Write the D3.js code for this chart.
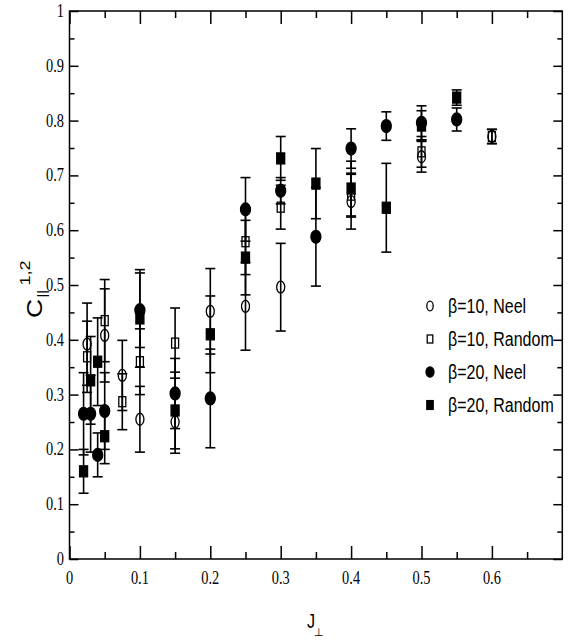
<!DOCTYPE html>
<html>
<head>
<meta charset="utf-8">
<script src="https://cdn.jsdelivr.net/npm/d3@7"></script>
<style>
  body { margin: 0; background: #fff; }
  svg { display: block; }
</style>
</head>
<body>
<div id="chart"></div>
<script>
// axis ticks
let xTicks = [0, 0.1, 0.2, 0.3, 0.4, 0.5, 0.6]
let xMinor = [0.05, 0.15, 0.25, 0.35, 0.45, 0.55, 0.65]
let xLabels = ['0', '0.1', '0.2', '0.3', '0.4', '0.5', '0.6']
let yTicks = [0, 0.1, 0.2, 0.3, 0.4, 0.5, 0.6, 0.7, 0.8, 0.9, 1]
let yMinor = [0.05, 0.15, 0.25, 0.35, 0.45, 0.55, 0.65, 0.75, 0.85, 0.95]
let yLabels = ['0', '0.1', '0.2', '0.3', '0.4', '0.5', '0.6', '0.7', '0.8', '0.9', '1']

let seriesNames = ['β=10, Neel', 'β=10, Random', 'β=20, Neel', 'β=20, Random']

// beta=10, Neel (open circles)
let j10Neel = [0.025, 0.05, 0.075, 0.1, 0.15, 0.2, 0.25, 0.3, 0.4, 0.5, 0.6]
let c10Neel = [0.392, 0.408, 0.335, 0.255, 0.25, 0.452, 0.461, 0.496, 0.652, 0.734, 0.771]
let e10Neel = [0.075, 0.085, 0.064, 0.06, 0.057, 0.078, 0.08, 0.08, 0.05, 0.028, 0.013]

// beta=10, Random (open squares)
let j10Rand = [0.025, 0.05, 0.075, 0.1, 0.15, 0.25, 0.3, 0.4, 0.5, 0.6]
let c10Rand = [0.369, 0.435, 0.287, 0.36, 0.394, 0.579, 0.642, 0.664, 0.743, 0.771]
let e10Rand = [0.065, 0.075, 0.051, 0.06, 0.064, 0.06, 0.04, 0.04, 0.028, 0.013]

// beta=20, Neel (filled circles)
let j20Neel = [0.02, 0.03, 0.04, 0.05, 0.1, 0.15, 0.2, 0.25, 0.3, 0.35, 0.4, 0.45, 0.5, 0.55]
let c20Neel = [0.265, 0.265, 0.19, 0.27, 0.454, 0.302, 0.293, 0.638, 0.672, 0.588, 0.749, 0.79, 0.796, 0.802]
let e20Neel = [0.075, 0.07, 0.04, 0.07, 0.068, 0.064, 0.09, 0.058, 0.024, 0.09, 0.036, 0.026, 0.031, 0.021]

// beta=20, Random (filled squares)
let j20Rand = [0.02, 0.03, 0.04, 0.05, 0.1, 0.15, 0.2, 0.25, 0.3, 0.35, 0.4, 0.45, 0.5, 0.55]
let c20Rand = [0.16, 0.326, 0.36, 0.224, 0.439, 0.271, 0.41, 0.55, 0.731, 0.685, 0.676, 0.641, 0.791, 0.842]
let e20Rand = [0.04, 0.08, 0.08, 0.05, 0.089, 0.07, 0.07, 0.068, 0.04, 0.064, 0.05, 0.081, 0.027, 0.014]

let width = 569
let height = 641
let plotLeft = 69.5, plotRight = 562.3, plotTop = 11, plotBottom = 559
let serif = "'Liberation Serif', 'Times New Roman', Times, serif"
let sans = "'Liberation Sans', Arial, Helvetica, sans-serif"

let svg = d3.select('#chart').append('svg')
  .attr('width', width)
  .attr('height', height)

let x = d3.scaleLinear().domain([0, 0.7]).range([plotLeft, plotRight])
let y = d3.scaleLinear().domain([0, 1]).range([plotBottom, plotTop])

// frame
svg.append('rect')
  .attr('x', plotLeft).attr('y', plotTop)
  .attr('width', plotRight - plotLeft).attr('height', plotBottom - plotTop)
  .attr('fill', 'none').attr('stroke', 'black').attr('stroke-width', 1.5)

// inward ticks on all four sides
let tickAxis = (axis, values, size, pos) => {
  let g = svg.append('g').attr('transform', pos)
    .call(axis.tickValues(values).tickSize(size).tickFormat(''))
  g.select('.domain').remove()
  g.selectAll('line').attr('stroke', 'black').attr('stroke-width', 1.5)
}
tickAxis(d3.axisBottom(x), xTicks, -13, 'translate(0,' + plotBottom + ')')
tickAxis(d3.axisBottom(x), xMinor, -7, 'translate(0,' + plotBottom + ')')
tickAxis(d3.axisTop(x), xTicks, -13, 'translate(0,' + plotTop + ')')
tickAxis(d3.axisTop(x), xMinor, -7, 'translate(0,' + plotTop + ')')
tickAxis(d3.axisLeft(y), yTicks, -9, 'translate(' + plotLeft + ',0)')
tickAxis(d3.axisLeft(y), yMinor, -5, 'translate(' + plotLeft + ',0)')
tickAxis(d3.axisRight(y), yTicks, -9, 'translate(' + plotRight + ',0)')
tickAxis(d3.axisRight(y), yMinor, -5, 'translate(' + plotRight + ',0)')

// tick labels (squeezed serif like the original)
svg.selectAll('.xlab')
  .data(xTicks)
  .enter().append('text')
  .style('font-family', serif)
  .attr('transform', (d) => 'translate(' + x(d) + ',584) scale(0.8,1)')
  .attr('text-anchor', 'middle')
  .attr('font-size', 18)
  .text((d, i) => xLabels[i])

svg.selectAll('.ylab')
  .data(yTicks)
  .enter().append('text')
  .style('font-family', serif)
  .attr('transform', (d) => 'translate(64,' + (y(d) + 6) + ') scale(0.8,1)')
  .attr('text-anchor', 'end')
  .attr('font-size', 18)
  .text((d, i) => yLabels[i])

// axis titles
let yt = svg.append('g').style('font-family', sans)
  .attr('transform', 'translate(42,318) rotate(-90) scale(1.2,1)')
yt.append('text').attr('font-size', 22).attr('x', 0).attr('y', 0).text('C')
yt.append('text').attr('font-size', 12).attr('x', 17).attr('y', 4).text('||')
yt.append('text').attr('font-size', 15).attr('x', 27).attr('y', -12).text('1,2')

let xt = svg.append('g').style('font-family', sans)
xt.append('text').attr('transform', 'translate(307,628) scale(0.9,1.15)').attr('font-size', 18).text('J')
xt.append('text').attr('x', 314).attr('y', 636).attr('font-size', 11).text('⊥')

// data
let series = [
  { name: seriesNames[0], j: j10Neel, c: c10Neel, e: e10Neel, shape: 'circle', filled: false },
  { name: seriesNames[1], j: j10Rand, c: c10Rand, e: e10Rand, shape: 'square', filled: false },
  { name: seriesNames[2], j: j20Neel, c: c20Neel, e: e20Neel, shape: 'circle', filled: true },
  { name: seriesNames[3], j: j20Rand, c: c20Rand, e: e20Rand, shape: 'square', filled: true }
]

let drawMarker = (g, s, cx, cy, small) => {
  let k = small ? 0.8 : 1
  if (s.shape === 'circle') {
    g.append('ellipse')
      .attr('cx', cx).attr('cy', cy)
      .attr('rx', (s.filled ? 5 : 4) * k).attr('ry', (s.filled ? 6.5 : 6) * k)
      .attr('fill', s.filled ? 'black' : 'none')
      .attr('stroke', 'black').attr('stroke-width', 1.3)
  } else {
    let w = (s.filled ? 8 : 7) * k, h = (s.filled ? 11 : 10) * k
    g.append('rect')
      .attr('x', cx - w / 2).attr('y', cy - h / 2)
      .attr('width', w).attr('height', h)
      .attr('fill', s.filled ? 'black' : 'none')
      .attr('stroke', 'black').attr('stroke-width', 1.3)
  }
}

let bars = svg.append('g').attr('stroke', 'black').attr('stroke-width', 1.6)
series.forEach((s) => {
  s.j.forEach((jv, i) => {
    let px = x(jv)
    let lo = y(s.c[i] - s.e[i]), hi = y(s.c[i] + s.e[i])
    bars.append('line').attr('x1', px).attr('x2', px).attr('y1', lo).attr('y2', hi)
    bars.append('line').attr('x1', px - 5).attr('x2', px + 5).attr('y1', lo).attr('y2', lo)
    bars.append('line').attr('x1', px - 5).attr('x2', px + 5).attr('y1', hi).attr('y2', hi)
  })
})

let marks = svg.append('g')
series.forEach((s) => {
  s.j.forEach((jv, i) => {
    drawMarker(marks, s, x(jv), y(s.c[i]), false)
  })
})

// legend
let legendY = [306, 339, 372, 405]
let legend = svg.append('g')
series.forEach((s, i) => {
  drawMarker(legend, s, 430, legendY[i], true)
  legend.append('text')
    .style('font-family', sans)
    .attr('transform', 'translate(448,' + (legendY[i] + 7) + ') scale(0.8,1)')
    .attr('font-size', 20)
    .text(s.name)
})
</script>
</body>
</html>
